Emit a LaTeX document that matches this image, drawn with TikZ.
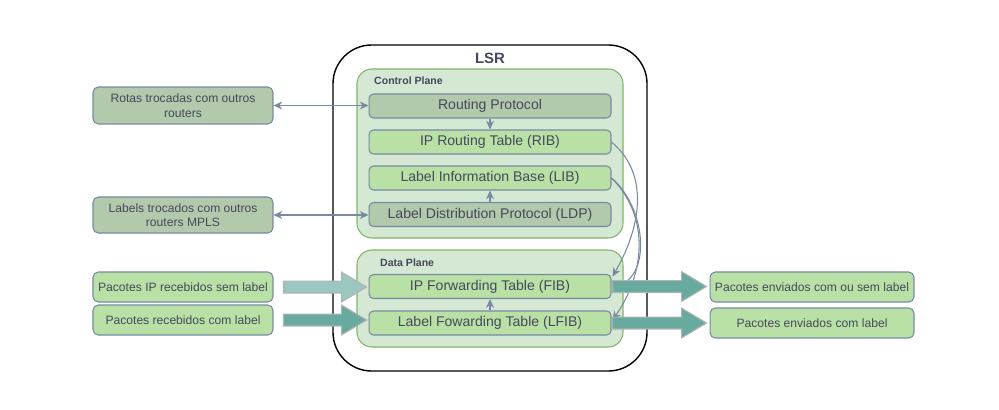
\documentclass[tikz,border=0pt]{standalone}
\usepackage{fontspec}
\setmainfont{Liberation Sans}
\usetikzlibrary{arrows.meta,calc}

\definecolor{sagefill}{HTML}{B2C9AB}
\definecolor{leaffill}{HTML}{B9E0A5}
\definecolor{slate}{HTML}{788AA3}
\definecolor{inktext}{HTML}{46495D}
\definecolor{planefill}{HTML}{D5E8D4}
\definecolor{planeline}{HTML}{82B366}
\definecolor{tealpale}{HTML}{9AC7BF}
\definecolor{tealdark}{HTML}{67AB9F}

\tikzset{
  tablebox/.style={draw=slate, line width=0.6pt, rounded corners=2.5pt, text=inktext,
    font=\fontsize{8}{9.6}\selectfont, minimum width=4.84cm, minimum height=0.48cm, inner sep=0pt},
  sidebox/.style={draw=slate, line width=0.6pt, rounded corners=3pt, text=inktext, align=center,
    font=\fontsize{6.9}{8.2}\selectfont, minimum width=3.6cm, inner sep=0pt},
  plane/.style={draw=planeline, fill=planefill, line width=0.6pt, rounded corners=8.5pt},
  planelabel/.style={anchor=west, text=inktext, font=\fontsize{6}{7}\selectfont\bfseries},
  link/.style={draw=slate, line width=0.6pt, -{Stealth[length=5pt,width=4.5pt]}},
  dlink/.style={draw=slate, line width=0.6pt, {Stealth[length=5pt,width=4.5pt]}-{Stealth[length=5pt,width=4.5pt]}}
}

\newcommand{\fatarrow}[3]{%
  \draw[draw=black!30, line width=0.6pt, fill=#1] let \p1=(#2), \p2=(#3) in
    (\x1,\y1+3.4pt) -- (\x2-14.2pt,\y1+3.4pt) -- (\x2-14.2pt,\y1+8.5pt) -- (\x2,\y1)
    -- (\x2-14.2pt,\y1-8.5pt) -- (\x2-14.2pt,\y1-3.4pt) -- (\x1,\y1-3.4pt) -- cycle;}

\begin{document}
\begin{tikzpicture}[x=0.02cm, y=-0.02cm]
    \useasboundingbox (0,0) rectangle (999,409);

    \draw[line width=0.8pt, rounded corners=22pt] (333,45) rectangle (647,371);
    \node[text=inktext, font=\fontsize{8.5}{10}\selectfont\bfseries] (lsr) at (490,58) {LSR};

    \draw[plane] (357,69) rectangle (623,238);
    \node[planelabel] (ctrl) at (368,81) {Control Plane};
    \draw[plane] (357,250) rectangle (623,347);
    \node[planelabel] (data) at (374,263) {Data Plane};

    \node[tablebox, fill=sagefill] (rp) at (490,106) {Routing Protocol};
    \node[tablebox, fill=leaffill] (rib) at (490,142) {IP Routing Table (RIB)};
    \node[tablebox, fill=leaffill] (lib) at (490,178) {Label Information Base (LIB)};
    \node[tablebox, fill=sagefill] (ldp) at (490,214.5) {Label Distribution Protocol (LDP)};
    \node[tablebox, fill=leaffill] (fib) at (490,286.5) {IP Forwarding Table (FIB)};
    \node[tablebox, fill=leaffill] (lfib) at (490,323) {Label Fowarding Table (LFIB)};

    \node[sidebox, fill=sagefill, minimum height=0.74cm] (rotas) at (183,105.5) {Rotas trocadas com outros\\routers};
    \node[sidebox, fill=sagefill, minimum height=0.72cm] (labels) at (183,215) {Labels trocados com outros\\routers MPLS};
    \node[sidebox, fill=leaffill, minimum height=0.6cm] (inip) at (183,287) {Pacotes IP recebidos sem label};
    \node[sidebox, fill=leaffill, minimum height=0.6cm] (inlabel) at (183,320) {Pacotes recebidos com label};
    \node[sidebox, fill=leaffill, minimum height=0.6cm, minimum width=4.08cm] (outip) at (812,287) {Pacotes enviados com ou sem label};
    \node[sidebox, fill=leaffill, minimum height=0.6cm, minimum width=4.08cm] (outlabel) at (812,323) {Pacotes enviados com label};

    \draw[dlink] (rotas) -- (rotas -| rp.west);
    \draw[dlink] (labels) -- (labels -| ldp.west);
    \draw[link] (rp) -- (rib);
    \draw[link] (ldp) -- (lib);
    \draw[link] (lfib) -- (fib);

    \draw[link] (rib.east) to[out=-40,in=60] ($(fib.east)+(1,-10)$);
    \draw[link] (lib.east) to[out=-40,in=20] ($(fib.east)+(1,2)$);
    \draw[link] (lib.east) to[out=-45,in=55] ($(lfib.east)+(1,-3)$);

    \fatarrow{tealpale}{$(inip.east)+(10,0)$}{$(fib.west)+(-2,0)$}
    \fatarrow{tealdark}{$(inlabel.east)+(10,0)$}{$(lfib.west)+(-2,0)$}
    \fatarrow{tealdark}{$(fib.east)+(1,0)$}{$(outip.west)+(-3,0)$}
    \fatarrow{tealdark}{$(lfib.east)+(1,0)$}{$(outlabel.west)+(-3,0)$}
\end{tikzpicture}
\end{document}
